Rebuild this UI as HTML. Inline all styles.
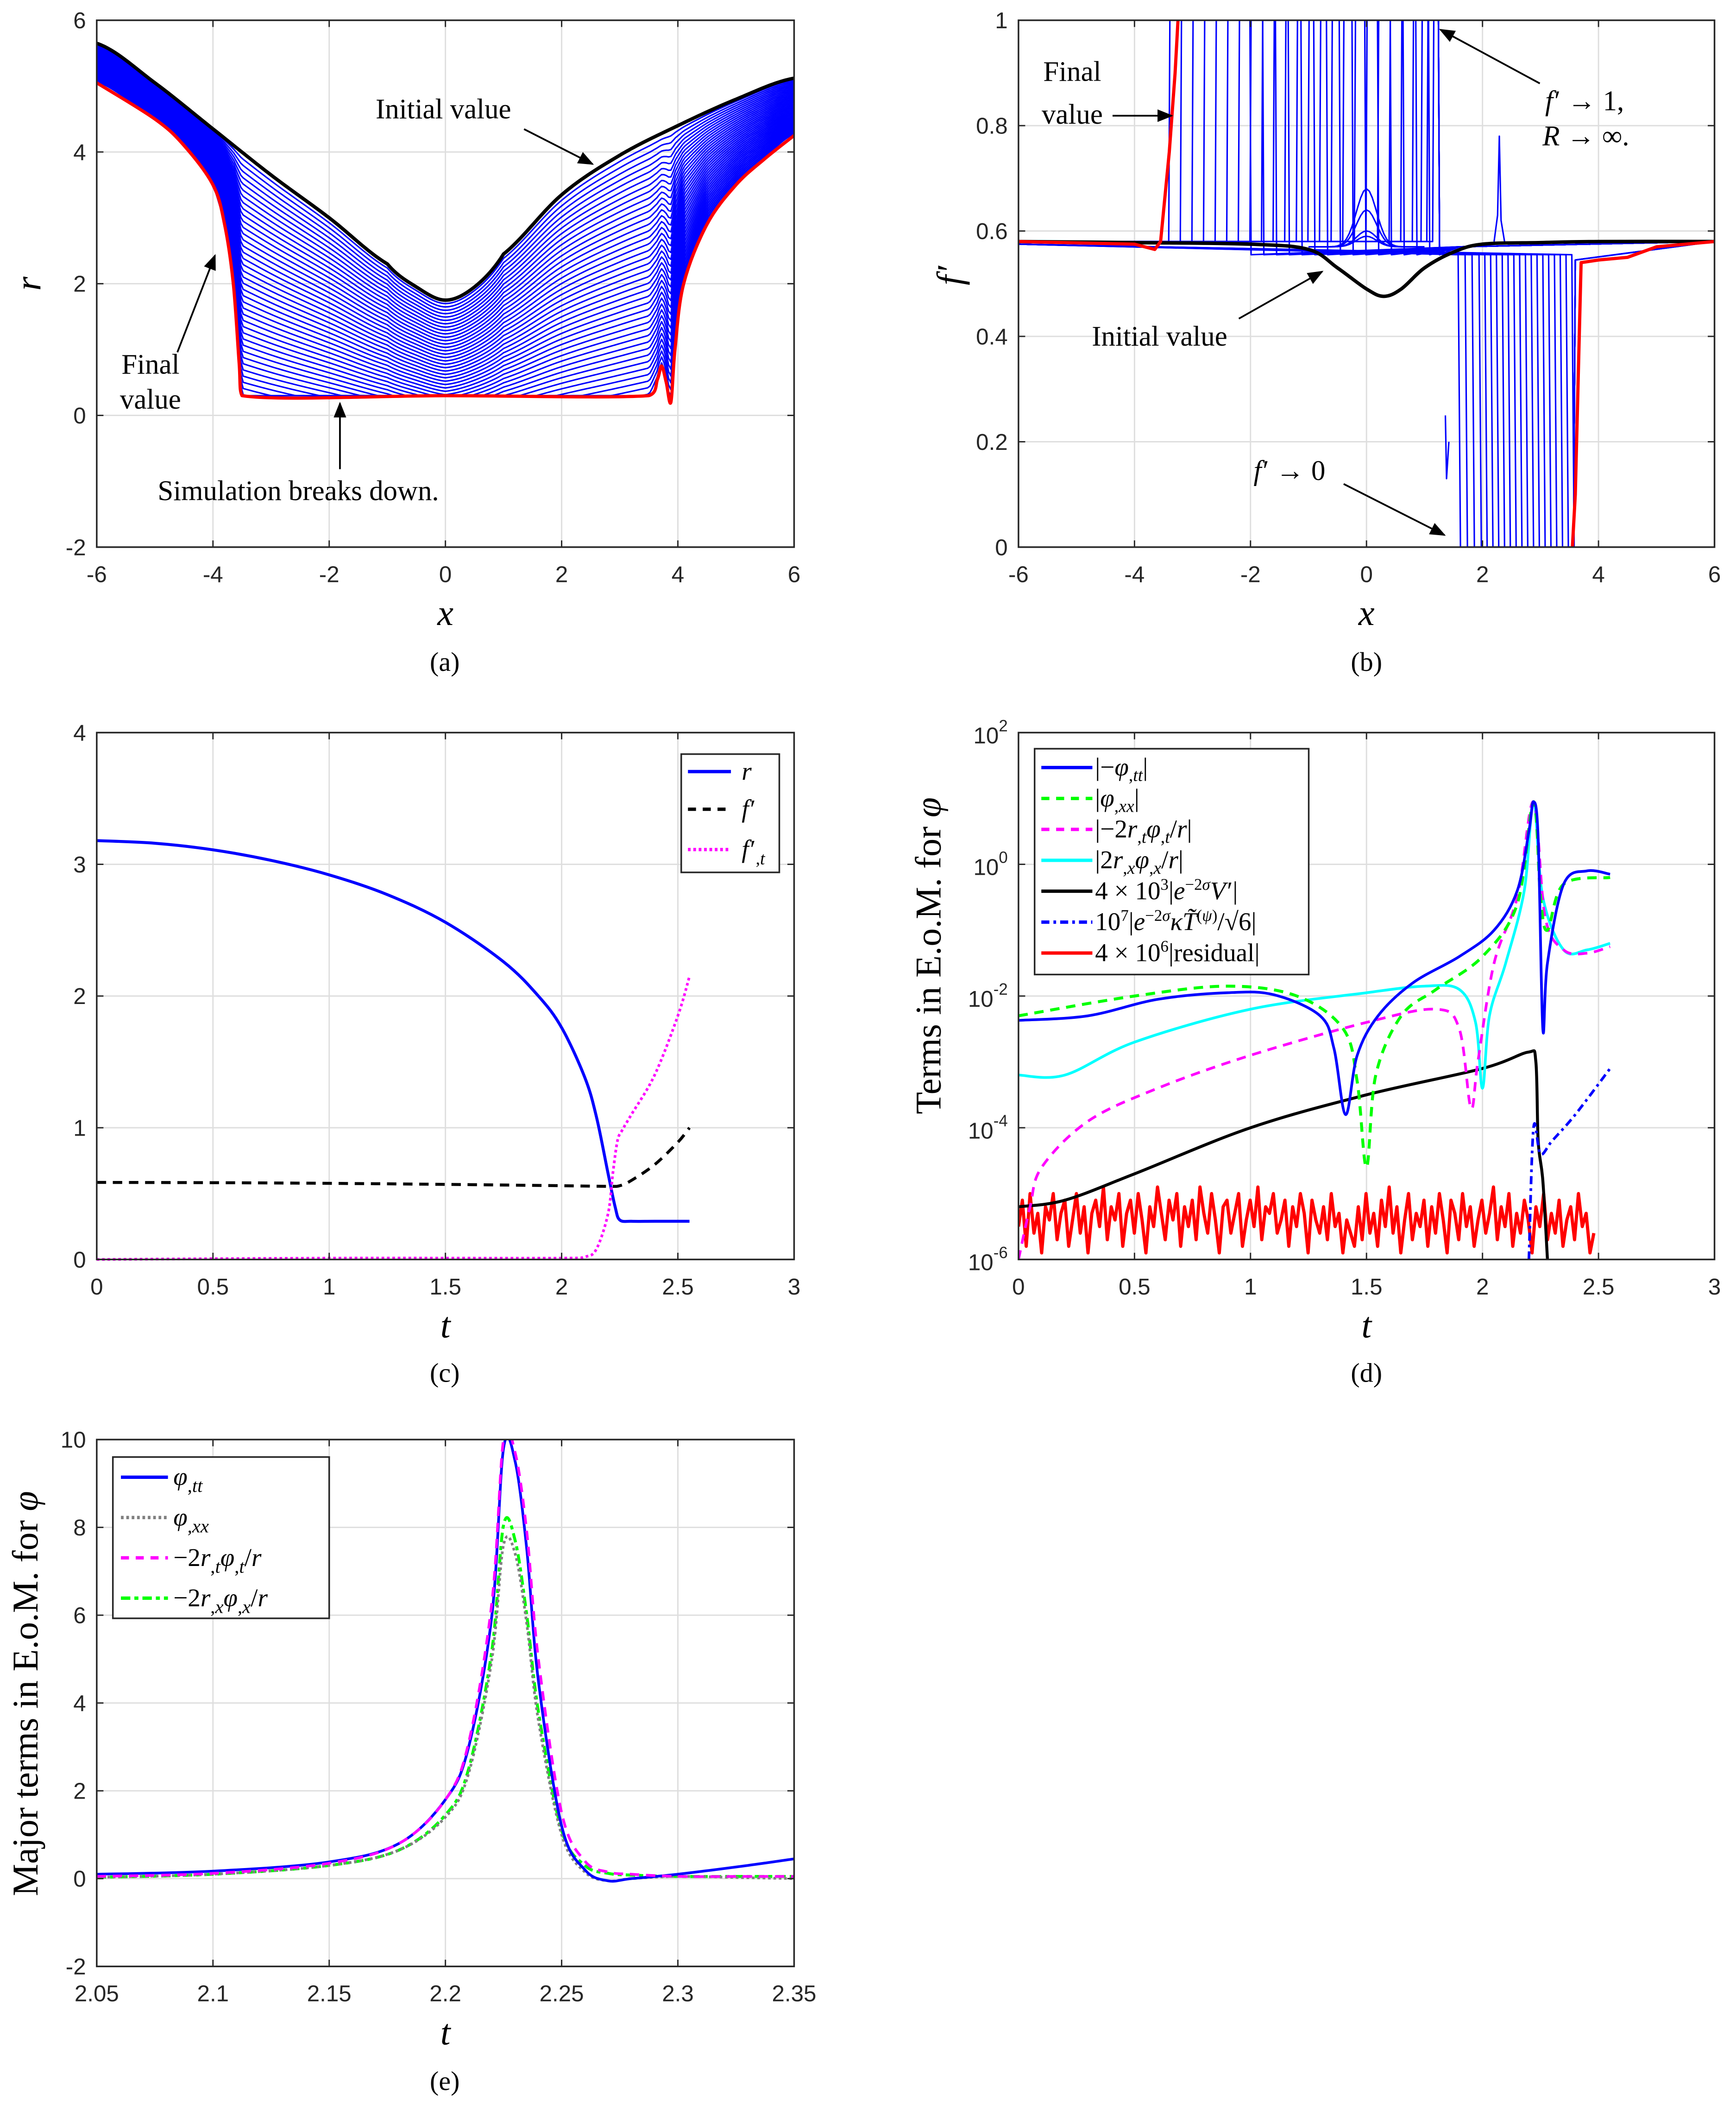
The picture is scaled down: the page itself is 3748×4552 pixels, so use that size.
<!DOCTYPE html>
<html><head><meta charset="utf-8">
<style>
html,body{margin:0;padding:0;background:#fff;}
svg{display:block;}
.tk{font-family:"Liberation Sans",sans-serif;font-size:17px;fill:#262626;}
.lab{font-family:"Liberation Serif",serif;font-style:italic;font-size:27px;fill:#000;}
.cap{font-family:"Liberation Serif",serif;font-size:20px;fill:#000;}
.ann{font-family:"Liberation Serif",serif;font-size:21px;fill:#000;}
.leg{font-family:"Liberation Serif",serif;font-size:19px;fill:#000;}
.it{font-style:italic;}
</style></head>
<body>
<svg id="fig" width="3748" height="4552" viewBox="0 0 1292 1569" xmlns="http://www.w3.org/2000/svg">
<defs><marker id="arr" viewBox="0 0 10 10" refX="9" refY="5" markerWidth="9" markerHeight="9" orient="auto-start-reverse"><path d="M0,1 L10,5 L0,9 z" fill="#000"/></marker></defs>
</svg>
<script>
// ---------- data ----------
// panel (a)
const aX = [-6,-5,-4,-3,-2,-1,-0.5,0,0.5,1,2,3,4,5,6];
const aInit = [5.65,5.05,4.35,3.65,3.0,2.3,1.95,1.75,1.95,2.45,3.35,3.95,4.4,4.8,5.12];
const aFinalX = [-6,-5,-4.5,-4,-3.8,-3.65,-3.55,-3.5,0,3.5,3.65,3.72,3.8,3.88,3.95,4.1,4.5,5,5.5,6];
const aFinalR = [5.05,4.5,4.1,3.5,2.9,2.0,0.8,0.3,0.3,0.3,0.55,0.75,0.5,0.2,1.0,2.0,2.9,3.5,3.9,4.25];
const aCurveCount = [40];
// panel (b)
const bInitX = [-6,-4,-2,-1,-0.5,0,0.3,0.6,1,1.5,2,3,4,6];
const bInitY = [0.58,0.578,0.575,0.565,0.53,0.49,0.476,0.49,0.53,0.56,0.575,0.578,0.58,0.58];
const bUpX = [-3.4,-3.2,-3.0,-2.8,-2.6,-2.4,-2.2,-2.0,-1.8,-1.6,-1.4,-1.2,-1.0,-0.8,-0.6,-0.4,-0.2,0.0,0.2,0.4,0.6,0.8,0.95,1.05,1.15];
const bDownX = [1.6,1.72,1.84,1.96,2.06,2.16,2.26,2.36,2.46,2.56,2.66,2.76,2.86,2.96,3.06,3.16,3.26,3.36,3.46,3.56];
const bBumpH = [0.68,0.64,0.6,0.59];
// panel (c)
const cT = [0,0.25,0.5,0.75,1.0,1.25,1.5,1.75,1.9,2.0,2.1,2.15,2.2,2.23,2.25,2.3,2.4,2.55];
const cR = [3.18,3.16,3.11,3.03,2.92,2.77,2.56,2.26,2.0,1.76,1.38,1.08,0.65,0.4,0.3,0.29,0.29,0.29];
const cFT = [0,0.5,1.0,1.5,2.0,2.2,2.25,2.3,2.4,2.5,2.55];
const cF = [0.585,0.583,0.578,0.57,0.56,0.555,0.56,0.6,0.72,0.89,1.0];
const cFtT = [0,1.0,2.0,2.1,2.15,2.2,2.22,2.24,2.26,2.3,2.4,2.5,2.55];
const cFt = [0,0.01,0.01,0.02,0.08,0.35,0.65,0.9,0.98,1.1,1.4,1.85,2.15];
// panel (d) log10 values
const dT1=[0,0.3,0.6,0.9,1.1,1.3,1.36,1.41,1.46,1.55,1.7,1.9,2.05,2.15,2.2,2.22,2.24,2.26,2.28,2.35,2.45,2.55];
const dY1=[-2.37,-2.3,-2.05,-1.95,-1.98,-2.3,-2.8,-3.8,-2.9,-2.3,-1.8,-1.4,-1.0,-0.4,0.5,0.95,0.4,-2.5,-1.5,-0.3,-0.1,-0.15];
const dT2=[0,0.5,0.9,1.2,1.4,1.46,1.5,1.54,1.65,1.8,2.0,2.15,2.22,2.25,2.28,2.35,2.55];
const dY2=[-2.3,-2.0,-1.85,-2.0,-2.5,-3.3,-4.6,-3.2,-2.3,-1.9,-1.4,-0.6,0.95,-0.5,-1.0,-0.3,-0.2];
const dT3=[0,0.05,0.1,0.3,0.6,1.0,1.5,1.8,1.9,1.95,1.98,2.05,2.15,2.22,2.27,2.35,2.45,2.55];
const dY3=[-6,-5.2,-4.6,-3.9,-3.4,-2.9,-2.4,-2.2,-2.5,-3.7,-3.0,-1.5,-0.5,0.95,-0.8,-1.3,-1.35,-1.25];
const dT4=[0,0.2,0.5,1.0,1.5,1.75,1.9,1.97,2.0,2.03,2.1,2.18,2.22,2.26,2.35,2.45,2.55];
const dY4=[-3.2,-3.2,-2.7,-2.2,-1.95,-1.85,-1.9,-2.4,-3.4,-2.3,-1.5,-0.4,0.95,-0.5,-1.3,-1.3,-1.2];
const dT5=[0,0.2,0.5,1.0,1.5,2.0,2.2,2.23,2.24,2.26,2.28];
const dY5=[-5.2,-5.1,-4.7,-4.0,-3.5,-3.1,-2.85,-3.0,-4.2,-4.8,-6];
const dT6=[2.2,2.22,2.25,2.3,2.4,2.55];
const dY6=[-6,-4.0,-4.4,-4.2,-3.8,-3.1];
const dResid=[-5.5,-5.1,-5.8,-5.0,-5.6,-5.3,-5.9,-5.2,-5.4,-5.0,-5.7,-5.3,-5.1,-5.8,-5.4,-5.0,-5.6,-5.2,-5.9,-5.3,-5.1,-5.5,-4.9,-5.7,-5.2,-5.4,-5.0,-5.8,-5.3,-5.1,-5.6,-5.0,-5.4,-5.9,-5.2,-5.5,-4.9,-5.3,-5.7,-5.1,-5.4,-5.0,-5.8,-5.2,-5.5,-5.1,-5.7,-4.9,-5.3,-5.6,-5.0,-5.4,-5.9,-5.2,-5.1,-5.6,-5.3,-5.0,-5.8,-5.4,-5.1,-5.5,-4.9,-5.7,-5.2,-5.3,-5.0,-5.6,-5.4,-5.1,-5.8,-5.2,-5.5,-5.0,-5.3,-5.9,-5.1,-5.4,-5.6,-5.2,-5.7,-5.0,-5.5,-5.3,-5.9,-5.4,-5.6,-5.8,
 -5.2,-5.7,-5.0,-5.6,-5.3,-5.8,-5.1,-5.5,-4.9,-5.6,-5.2,-5.9,-5.4,-5.0,-5.7,-5.3,-5.5,-5.1,-5.8,-5.2,-5.6,-5.0,-5.4,-5.9,-5.1,-5.3,-5.7,-5.0,-5.5,-5.2,-5.8,-5.4,-5.1,-5.6,-5.3,-4.9,-5.7,-5.2,-5.5,-5.0,-5.8,-5.3,-5.6,-5.1,-5.4,-5.9,-5.2,-5.5,-5.0,-5.7,-5.3,-5.6,-5.1,-5.8,-5.4,-5.2,-5.7,-5.0,-5.5,-5.3,-5.9,-5.6];
// panel (e)
const eT=[2.05,2.1,2.15,2.18,2.2,2.21,2.22,2.225,2.23,2.235,2.24,2.25,2.26,2.27,2.28,2.3,2.33,2.35];
const eTT=[0.1,0.17,0.38,0.8,1.8,3.0,6.0,9.8,9.5,7.5,4.5,1.2,0.2,-0.05,0.0,0.1,0.3,0.45];
const eXX=[0.03,0.1,0.3,0.65,1.4,2.4,5.0,7.6,7.4,5.8,3.6,1.0,0.15,-0.05,0.0,0.05,0.02,0.0];
const eRT=[0.05,0.12,0.35,0.8,1.8,3.1,6.3,10.0,9.7,7.9,5.0,1.5,0.4,0.15,0.1,0.05,0.05,0.05];
const eRX=[0.03,0.1,0.3,0.65,1.45,2.5,5.2,8.05,7.7,6.0,3.8,1.1,0.3,0.12,0.08,0.05,0.05,0.05];

// ---------- helpers ----------
const svg=document.getElementById('fig');
const NS='http://www.w3.org/2000/svg';
function el(tag,attrs,parent){const e=document.createElementNS(NS,tag);for(const k in attrs)e.setAttribute(k,attrs[k]);(parent||svg).appendChild(e);return e;}
function txt(x,y,s,cls,anchor,parent){const t=el('text',{x:x,y:y,class:cls,'text-anchor':anchor||'middle'},parent);t.innerHTML=s;return t;}
function axes(name,L,R,T,B,x0,x1,y0,y1,xt,yt,xlab,log){
  const g=el('g',{});
  
  
  const sx=v=>L+(v-x0)/(x1-x0)*(R-L);
  const sy=v=>B-(v-y0)/(y1-y0)*(B-T);
  el('rect',{x:L,y:T,width:R-L,height:B-T,fill:'#fff'},g);
  xt.forEach(v=>{el('line',{x1:sx(v),x2:sx(v),y1:T,y2:B,stroke:'#dedede','stroke-width':1},g);});
  yt.forEach(v=>{el('line',{x1:L,x2:R,y1:sy(v),y2:sy(v),stroke:'#dedede','stroke-width':1},g);});
  const plot=el('g',{},g);
  const fr=el('g',{},g);
  el('rect',{x:L,y:T,width:R-L,height:B-T,fill:'none',stroke:'#262626','stroke-width':1.2},fr);
  xt.forEach(v=>{el('line',{x1:sx(v),x2:sx(v),y1:B,y2:B-5,stroke:'#262626'},fr);el('line',{x1:sx(v),x2:sx(v),y1:T,y2:T+5,stroke:'#262626'},fr);
    const t=txt(sx(v),B+26,String(v),'tk','middle',fr);});
  yt.forEach(v=>{el('line',{x1:L,x2:L+5,y1:sy(v),y2:sy(v),stroke:'#262626'},fr);el('line',{x1:R,x2:R-5,y1:sy(v),y2:sy(v),stroke:'#262626'},fr);
    let t;
    if(log){t=txt(L-8,sy(v)+8,'10<tspan font-size="12" dy="-9">'+v+'</tspan>','tk','end',fr);}
    else t=txt(L-8,sy(v)+6,String(v),'tk','end',fr);
    });
  const xl=txt((L+R)/2,B+58,xlab,'lab','middle',fr);
  return {sx,sy,plot,fr,g};
}
// smooth (Catmull-Rom) path through points
function smoothD(A,xs,ys){
  const P=xs.map((x,i)=>[A.sx(x),A.sy(ys[i])]);
  let d='M'+P[0][0].toFixed(2)+','+P[0][1].toFixed(2);
  for(let i=0;i<P.length-1;i++){
    const p0=P[i-1]||P[i],p1=P[i],p2=P[i+1],p3=P[i+2]||P[i+1];
    const c1=[p1[0]+(p2[0]-p0[0])/6,p1[1]+(p2[1]-p0[1])/6];
    const c2=[p2[0]-(p3[0]-p1[0])/6,p2[1]-(p3[1]-p1[1])/6];
    // keep x monotone control points
    c1[0]=Math.min(Math.max(c1[0],p1[0]),p2[0]);c2[0]=Math.min(Math.max(c2[0],p1[0]),p2[0]);
    d+=' C'+c1[0].toFixed(2)+','+c1[1].toFixed(2)+' '+c2[0].toFixed(2)+','+c2[1].toFixed(2)+' '+p2[0].toFixed(2)+','+p2[1].toFixed(2);
  }
  return d;
}
function line(A,xs,ys,attrs,smooth){
  const d=smooth?smoothD(A,xs,ys):xs.map((x,i)=>(i?'L':'M')+A.sx(x).toFixed(2)+','+A.sy(ys[i]).toFixed(2)).join(' ');
  return el('path',Object.assign({d:d,fill:'none','stroke-linejoin':'round'},attrs),A.plot);
}
function interp(xs,ys,x){if(x<=xs[0])return ys[0];for(let i=1;i<xs.length;i++){if(x<=xs[i]){const f=(x-xs[i-1])/(xs[i]-xs[i-1]);
  const y0=ys[i-2]!==undefined?ys[i-2]:ys[i-1],y3=ys[i+1]!==undefined?ys[i+1]:ys[i];
  const a=ys[i-1],b=ys[i];const m1=(b-y0)/2,m2=(y3-a)/2;const f2=f*f,f3=f2*f;
  return (2*f3-3*f2+1)*a+(f3-2*f2+f)*m1+(-2*f3+3*f2)*b+(f3-f2)*m2;}}return ys[ys.length-1];}
const PR='<tspan dx="1">′</tspan>';

// ---------- panel (a) ----------
{
const A=axes('panel-a',72,591,15,407,-6,6,-2,6,[-6,-4,-2,0,2,4,6],[-2,0,2,4,6],'x');
const cp=el('clipPath',{id:'ca'});el('rect',{x:72,y:15,width:519,height:392},cp);A.plot.setAttribute('clip-path','url(#ca)');
const yl=txt(0,0,'r','lab','middle',A.fr);yl.setAttribute('transform','translate(30,211) rotate(-90)');
const xs=[];for(let x=-6;x<=6.001;x+=0.04)xs.push(+x.toFixed(2));
const N=aCurveCount[0];
for(let k=1;k<N;k++){
  const s=k/N;
  const ys=xs.map(x=>{const a=interp(aX,aInit,x),b=interp(aFinalX,aFinalR,x);let v=a*(1-s)+b*s;return Math.max(0.3,v-0.6*s*Math.max(0,1-Math.abs(x)/4));});
  const p=line(A,xs,ys,{stroke:'#0000ff','stroke-width':1.1});
  
}
let p=line(A,xs,xs.map(x=>interp(aX,aInit,x)),{stroke:'#000','stroke-width':2.6});
p=line(A,aFinalX,aFinalR,{stroke:'#ff0000','stroke-width':2.4},true);
const g=el('g',{});
txt(330,88,'Initial value','ann','middle',g);
el('line',{x1:390,y1:96,x2:441,y2:122,stroke:'#000','stroke-width':1.3,'marker-end':'url(#arr)'},g);
txt(112,278,'Final','ann','middle',g);txt(112,304,'value','ann','middle',g);
el('line',{x1:132,y1:262,x2:160,y2:190,stroke:'#000','stroke-width':1.3,'marker-end':'url(#arr)'},g);
txt(222,372,'Simulation breaks down.','ann','middle',g);
el('line',{x1:253,y1:349,x2:253,y2:300,stroke:'#000','stroke-width':1.3,'marker-end':'url(#arr)'},g);
txt(331,499,'(a)','cap','middle');
}
// ---------- panel (b) ----------
{
const A=axes('panel-b',758,1276,15,407,-6,6,0,1,[-6,-4,-2,0,2,4,6],[0,0.2,0.4,0.6,0.8,1],'x');
const cp=el('clipPath',{id:'cb'});el('rect',{x:758,y:15,width:518,height:392},cp);A.plot.setAttribute('clip-path','url(#cb)');
const yl=txt(0,0,'f'+PR,'lab','middle',A.fr);yl.setAttribute('transform','translate(716,205) rotate(-90)');
bUpX.forEach((x,i)=>{const xe=Math.min(1.25,x+1.4+i*0.02);
  const p=line(A,[-6,x-0.01,x+0.01,xe-0.01,xe+0.01,1.6,6],[0.58,0.58,1,1,0.555,0.57,0.58],{stroke:'#0000ff','stroke-width':1.1});
  });
bDownX.forEach((x,i)=>{
  const p=line(A,[-6,x-0.02,x+0.02,3.57,3.6,6],[0.575,0.555,0.0,0.0,0.545,0.58],{stroke:'#0000ff','stroke-width':1.1});
  });
bBumpH.forEach((h,i)=>{const xs=[],ys=[];for(let x=-1;x<=1.001;x+=0.05){xs.push(x);ys.push(0.57+(h-0.57)*Math.exp(-x*x/0.06));}
  const p=line(A,xs,ys,{stroke:'#0000ff','stroke-width':1.1});});
let p=line(A,[1.36,1.38,1.42],[0.25,0.13,0.2],{stroke:'#0000ff','stroke-width':1.1});
p=line(A,[2.2,2.26,2.29,2.32,2.38],[0.58,0.63,0.78,0.62,0.58],{stroke:'#0000ff','stroke-width':1.1});
p=line(A,bInitX,bInitY,{stroke:'#000','stroke-width':2.6},true);
p=line(A,[-6,-4,-3.65,-3.55,-3.4,-3.3,-3.25,-3.2,-3.15],[0.58,0.575,0.565,0.58,0.75,0.9,1,1.1,1.2],{stroke:'#ff0000','stroke-width':2.4});

p=line(A,[3.55,3.6,3.7,4,4.5,5,6],[0,0.1,0.54,0.545,0.55,0.57,0.58],{stroke:'#ff0000','stroke-width':2.4});

const g=el('g',{});
txt(798,60,'Final','ann','middle',g);txt(798,92,'value','ann','middle',g);
el('line',{x1:828,y1:86,x2:872,y2:86,stroke:'#000','stroke-width':1.3,'marker-end':'url(#arr)'},g);
txt(1150,82,'<tspan class="it">f</tspan>'+PR+' → 1,','ann','start',g);
txt(1148,108,'<tspan class="it">R</tspan> → ∞.','ann','start',g);
el('line',{x1:1146,y1:62,x2:1072,y2:22,stroke:'#000','stroke-width':1.3,'marker-end':'url(#arr)'},g);
txt(863,257,'Initial value','ann','middle',g);
el('line',{x1:922,y1:237,x2:984,y2:202,stroke:'#000','stroke-width':1.3,'marker-end':'url(#arr)'},g);
txt(933,357,'<tspan class="it">f</tspan>'+PR+' → 0','ann','start',g);
el('line',{x1:1000,y1:360,x2:1075,y2:398,stroke:'#000','stroke-width':1.3,'marker-end':'url(#arr)'},g);
txt(1017,499,'(b)','cap','middle');
}
// ---------- panel (c) ----------
{
const A=axes('panel-c',72,591,545,937,0,3,0,4,[0,0.5,1,1.5,2,2.5,3],[0,1,2,3,4],'t');
let p=line(A,cT,cR,{stroke:'#0000ff','stroke-width':2.2},true);
p=line(A,cFT,cF,{stroke:'#000','stroke-width':2.2,'stroke-dasharray':'7,5'},true);
p=line(A,cFtT,cFt,{stroke:'#ff00ff','stroke-width':2,'stroke-dasharray':'2,2'},true);
const lg=el('g',{});
el('rect',{x:507,y:561,width:73,height:88,fill:'#fff',stroke:'#262626','stroke-width':1.2},lg);
el('line',{x1:512,x2:544,y1:574,y2:574,stroke:'#0000ff','stroke-width':2.5},lg);
el('line',{x1:512,x2:544,y1:602,y2:602,stroke:'#000','stroke-width':2.5,'stroke-dasharray':'6,5'},lg);
el('line',{x1:512,x2:544,y1:632,y2:632,stroke:'#ff00ff','stroke-width':2.5,'stroke-dasharray':'2,2'},lg);
txt(552,580,'<tspan class="it">r</tspan>','leg','start',lg);
txt(552,608,'<tspan class="it">f</tspan>'+PR,'leg','start',lg);
txt(552,638,'<tspan class="it">f</tspan>'+PR+'<tspan font-size="13" dy="5">,<tspan class="it">t</tspan></tspan>','leg','start',lg);
txt(331,1028,'(c)','cap','middle');
}
// ---------- panel (d) ----------
{
const A=axes('panel-d',758,1276,545,937,0,3,-6,2,[0,0.5,1,1.5,2,2.5,3],[-6,-4,-2,0,2],'t',true);
const cp=el('clipPath',{id:'cd'});el('rect',{x:758,y:545,width:518,height:392},cp);A.plot.setAttribute('clip-path','url(#cd)');
const yl=txt(0,0,'Terms in E.o.M. for <tspan class="it">φ</tspan>','lab','middle',A.fr);yl.setAttribute('style','font-style:normal');yl.setAttribute('transform','translate(700,711) rotate(-90)');
const rt=dResid.map((v,i)=>i*2.48/(dResid.length-1));
let p=line(A,rt,dResid,{stroke:'#ff0000','stroke-width':2.4});
p=line(A,dT5,dY5,{stroke:'#000','stroke-width':2.2},true);
p=line(A,dT6,dY6,{stroke:'#0000ff','stroke-width':2,'stroke-dasharray':'6,3,2,3'},true);
p=line(A,dT4,dY4,{stroke:'#00ffff','stroke-width':2},true);
p=line(A,dT3,dY3,{stroke:'#ff00ff','stroke-width':2,'stroke-dasharray':'7,5'},true);
p=line(A,dT2,dY2,{stroke:'#00ff00','stroke-width':2.2,'stroke-dasharray':'7,5'},true);
p=line(A,dT1,dY1,{stroke:'#0000ff','stroke-width':2},true);
const lg=el('g',{});
el('rect',{x:770,y:557,width:204,height:168,fill:'#fff',stroke:'#262626','stroke-width':1.2},lg);
const rows=[['#0000ff','','|−<tspan class="it">φ</tspan><tspan font-size="13" dy="4">,<tspan class="it">tt</tspan></tspan><tspan dy="-4">|</tspan>'],
 ['#00ff00','6,5','|<tspan class="it">φ</tspan><tspan font-size="13" dy="4">,<tspan class="it">xx</tspan></tspan><tspan dy="-4">|</tspan>'],
 ['#ff00ff','6,5','|−2<tspan class="it">r</tspan><tspan font-size="13" dy="4">,<tspan class="it">t</tspan></tspan><tspan class="it" dy="-4">φ</tspan><tspan font-size="13" dy="4">,<tspan class="it">t</tspan></tspan><tspan dy="-4">/</tspan><tspan class="it">r</tspan>|'],
 ['#00ffff','','|2<tspan class="it">r</tspan><tspan font-size="13" dy="4">,<tspan class="it">x</tspan></tspan><tspan class="it" dy="-4">φ</tspan><tspan font-size="13" dy="4">,<tspan class="it">x</tspan></tspan><tspan dy="-4">/</tspan><tspan class="it">r</tspan>|'],
 ['#000','','4 × 10<tspan font-size="12" dy="-7">3</tspan><tspan dy="7">|</tspan><tspan class="it">e</tspan><tspan font-size="12" dy="-7">−2<tspan class="it">σ</tspan></tspan><tspan class="it" dy="7">V</tspan>'+PR+'|'],
 ['#0000ff','6,3,2,3','10<tspan font-size="12" dy="-7">7</tspan><tspan dy="7">|</tspan><tspan class="it">e</tspan><tspan font-size="12" dy="-7">−2<tspan class="it">σ</tspan></tspan><tspan class="it" dy="7">κT̃</tspan><tspan font-size="12" dy="-7">(<tspan class="it">ψ</tspan>)</tspan><tspan dy="7">/√6|</tspan>'],
 ['#ff0000','','4 × 10<tspan font-size="12" dy="-7">6</tspan><tspan dy="7">|residual|</tspan>']];
rows.forEach((r,i)=>{const y=571+i*23;const a={x1:775,x2:813,y1:y,y2:y,stroke:r[0],'stroke-width':2.5};if(r[1])a['stroke-dasharray']=r[1];el('line',a,lg);txt(815,y+6,r[2],'leg','start',lg);});
txt(1017,1028,'(d)','cap','middle');
}
// ---------- panel (e) ----------
{
const A=axes('panel-e',72,591,1071,1463,2.05,2.35,-2,10,[2.05,2.1,2.15,2.2,2.25,2.3,2.35],[-2,0,2,4,6,8,10],'t');
const cp=el('clipPath',{id:'ce'});el('rect',{x:72,y:1071,width:519,height:392},cp);A.plot.setAttribute('clip-path','url(#ce)');
const yl=txt(0,0,'Major terms in E.o.M. for <tspan class="it">φ</tspan>','lab','middle',A.fr);yl.setAttribute('style','font-style:normal');yl.setAttribute('transform','translate(28,1260) rotate(-90)');
let p=line(A,eT,eRX,{stroke:'#00ff00','stroke-width':2.2,'stroke-dasharray':'7,3,3,3'},true);
p=line(A,eT,eXX,{stroke:'#808080','stroke-width':2,'stroke-dasharray':'2,2'},true);
p=line(A,eT,eTT,{stroke:'#0000ff','stroke-width':2},true);
p=line(A,eT,eRT,{stroke:'#ff00ff','stroke-width':2,'stroke-dasharray':'7,5'},true);
const lg=el('g',{});
el('rect',{x:84,y:1084,width:161,height:120,fill:'#fff',stroke:'#262626','stroke-width':1.2},lg);
const rows=[['#0000ff','','<tspan class="it">φ</tspan><tspan font-size="14" dy="5">,<tspan class="it">tt</tspan></tspan>'],
 ['#808080','2,2','<tspan class="it">φ</tspan><tspan font-size="14" dy="5">,<tspan class="it">xx</tspan></tspan>'],
 ['#ff00ff','6,5','−2<tspan class="it">r</tspan><tspan font-size="14" dy="5">,<tspan class="it">t</tspan></tspan><tspan class="it" dy="-5">φ</tspan><tspan font-size="14" dy="5">,<tspan class="it">t</tspan></tspan><tspan dy="-5">/</tspan><tspan class="it">r</tspan>'],
 ['#00ff00','7,3,3,3','−2<tspan class="it">r</tspan><tspan font-size="14" dy="5">,<tspan class="it">x</tspan></tspan><tspan class="it" dy="-5">φ</tspan><tspan font-size="14" dy="5">,<tspan class="it">x</tspan></tspan><tspan dy="-5">/</tspan><tspan class="it">r</tspan>']];
rows.forEach((r,i)=>{const y=1099+i*30;const a={x1:90,x2:125,y1:y,y2:y,stroke:r[0],'stroke-width':2.5};if(r[1])a['stroke-dasharray']=r[1];el('line',a,lg);txt(129,y+6,r[2],'leg','start',lg).setAttribute('font-size','22');});
txt(331,1555,'(e)','cap','middle');
}
</script>
</body></html>
